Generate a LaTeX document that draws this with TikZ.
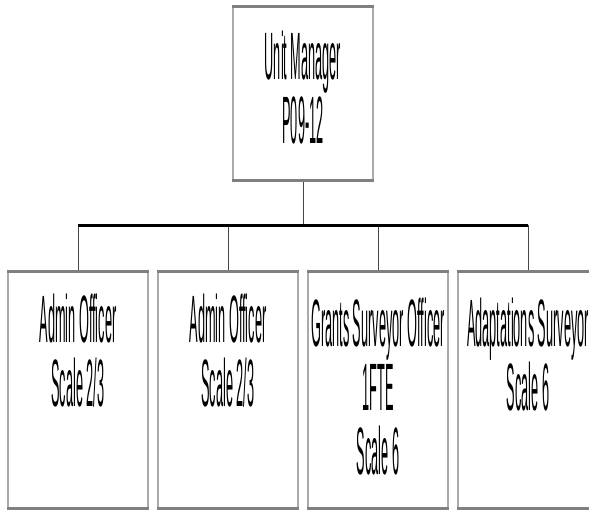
\documentclass[tikz,border=0pt]{standalone}
\usepackage{fontspec}
\newfontfamily\orgfont[FakeStretch=0.19]{Liberation Sans}
\definecolor{boxedge}{RGB}{128,128,128}
\definecolor{boxside}{RGB}{170,170,170}
\definecolor{linkgray}{RGB}{70,70,70}
\tikzset{
  orgbox/.style={rectangle, fill=white, draw=none, inner sep=0pt,
    minimum width=140pt, minimum height=#1},
  boxedge/.style={draw=boxedge, line width=3pt},
  boxside/.style={draw=boxside, line width=1.5pt},
  orgtext/.style={anchor=north, inner sep=0pt, align=center, text=black,
    font=\orgfont\fontsize{67}{64}\selectfont},
  bus/.style={draw=black, line width=3pt},
  link/.style={draw=linkgray, line width=1pt},
}
\begin{document}
\begin{tikzpicture}[x=1pt, y=-1pt]
  \useasboundingbox (0,0) rectangle (589,509);
  \clip (0,0) rectangle (589,509);

  % boxes
  \node[orgbox=173pt] (mgr) at (303,93.5) {};
  \node[orgbox=236pt] (c1) at (78,390) {};
  \node[orgbox=236pt] (c2) at (228,390) {};
  \node[orgbox=236pt] (c3) at (378,390) {};
  \node[orgbox=236pt] (c4) at (528,390) {};

  \foreach \b in {mgr,c1,c2,c3,c4} {
    \draw[boxside] (\b.north west) -- (\b.south west)
                   (\b.north east) -- (\b.south east);
    \draw[boxedge] ([xshift=-0.75pt]\b.north west) -- ([xshift=0.75pt]\b.north east)
                   ([xshift=-0.75pt]\b.south west) -- ([xshift=0.75pt]\b.south east);
  }

  % texts
  \node[orgtext] (mgrt) at ([yshift=-24pt]mgr.north) {Unit Manager\\P09-12};
  \node[orgtext] (c1t) at ([yshift=-22pt]c1.north) {Admin Officer\\Scale 2/3};
  \node[orgtext] (c2t) at ([yshift=-22pt]c2.north) {Admin Officer\\Scale 2/3};
  \node[orgtext] (c3t) at ([yshift=-26pt]c3.north) {Grants Surveyor Officer\\1FTE\\Scale 6};
  \node[orgtext] (c4t) at ([yshift=-26pt]c4.north) {Adaptations Surveyor\\Scale 6};

  % connectors
  \coordinate (bus) at (303,225);
  \draw[link] ([yshift=-1.5pt]mgr.south) -- (mgr.south |- bus);
  \foreach \c in {c1,c2,c3,c4}
    \draw[link] ([yshift=1.5pt]\c.north) -- (\c.north |- bus);
  \draw[bus] (c1.north |- bus) -- (c4.north |- bus);
\end{tikzpicture}
\end{document}
